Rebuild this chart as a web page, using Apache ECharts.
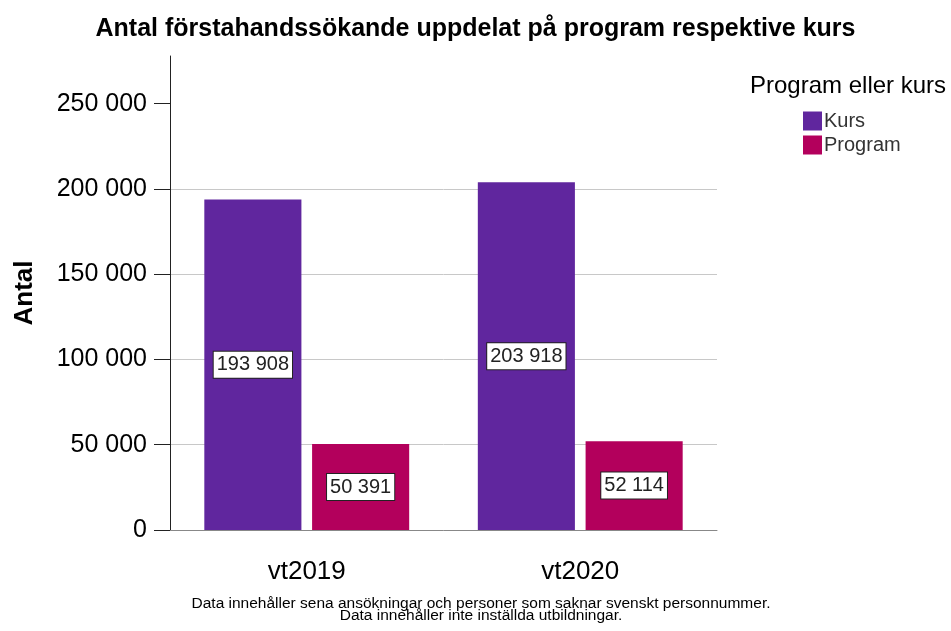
<!DOCTYPE html>
<html>
<head>
<meta charset="utf-8">
<script src="https://cdn.jsdelivr.net/npm/echarts@6/dist/echarts.min.js"></script>
<style>
  html, body { margin: 0; padding: 0; background: #fff; }
  #chart { width: 951px; height: 631px; }
</style>
</head>
<body>
<div id="chart"></div>
<script>
/* data */
var terms = ['vt2019', 'vt2020'];
var kurs = [193908, 203918];
var program = [50391, 52114];
var yTicks = [0, 50000, 100000, 150000, 200000, 250000];

function fmt(v) {
    return String(v).replace(/\B(?=(\d{3})+(?!\d))/g, ' ');
}

var labelStyle = {
    show: true,
    position: 'inside',
    formatter: function (p) { return fmt(p.value); },
    color: '#222',
    fontFamily: 'Liberation Sans, Arial',
    fontSize: 20,
    backgroundColor: '#fff',
    borderColor: '#222',
    borderWidth: 1,
    padding: [4, 3, 2, 3]
};

var chart = echarts.init(document.getElementById('chart'));
chart.setOption({
    animation: false,
    textStyle: { fontFamily: 'Liberation Sans, Arial' },
    title: {
        text: 'Antal förstahandssökande uppdelat på program respektive kurs',
        left: 'center',
        top: 12,
        textStyle: { color: '#000', fontSize: 25, fontWeight: 'bold' }
    },
    graphic: [
        {
            type: 'text', left: 750, top: 74,
            style: { text: 'Program eller kurs', fontSize: 24, fill: '#000', fontFamily: 'Liberation Sans, Arial' }
        },
        {
            type: 'text', x: 481, y: 597,
            style: {
                text: 'Data innehåller sena ansökningar och personer som saknar svenskt personnummer.\nData innehåller inte inställda utbildningar.',
                align: 'center', fontSize: 15.5, lineHeight: 12.5, fill: '#000',
                fontFamily: 'Liberation Sans, Arial'
            }
        }
    ],
    legend: {
        orient: 'vertical',
        left: 798,
        top: 106,
        itemWidth: 19,
        itemHeight: 19,
        itemGap: 4,
        icon: 'rect',
        textStyle: { fontSize: 20, color: '#333', padding: [0, 0, 0, -3] },
        data: ['Kurs', 'Program']
    },
    grid: { left: 170, right: 234, top: 56, bottom: 101 },
    xAxis: {
        type: 'category',
        data: terms,
        axisLine: { lineStyle: { color: '#888', width: 1 } },
        axisTick: { alignWithLabel: true, length: 15, lineStyle: { color: '#222' } },
        axisLabel: { fontSize: 26, color: '#000', margin: 29 }
    },
    yAxis: {
        type: 'value',
        min: 0,
        max: 278000,
        interval: 50000,
        name: 'Antal',
        nameLocation: 'middle',
        nameGap: 132,
        nameRotate: 90,
        nameTextStyle: { fontSize: 26, fontWeight: 'bold', color: '#000' },
        axisLine: { show: true, lineStyle: { color: '#222', width: 1 } },
        axisTick: { show: true, length: 16, customValues: yTicks, lineStyle: { color: '#222' } },
        axisLabel: { fontSize: 25, color: '#000', margin: 23, padding: [8, 0, 0, 0], customValues: yTicks, formatter: fmt },
        splitLine: { show: true, showMaxLine: false, lineStyle: { color: '#c8c8c8', width: 1 } }
    },
    series: [
        {
            name: 'Kurs',
            type: 'bar',
            data: kurs,
            barWidth: '35.5%',
            barGap: '11%',
            itemStyle: { color: '#60269e' },
            label: labelStyle
        },
        {
            name: 'Program',
            type: 'bar',
            data: program,
            barWidth: '35.5%',
            itemStyle: { color: '#b3005c' },
            label: labelStyle
        }
    ]
});
</script>
</body>
</html>
